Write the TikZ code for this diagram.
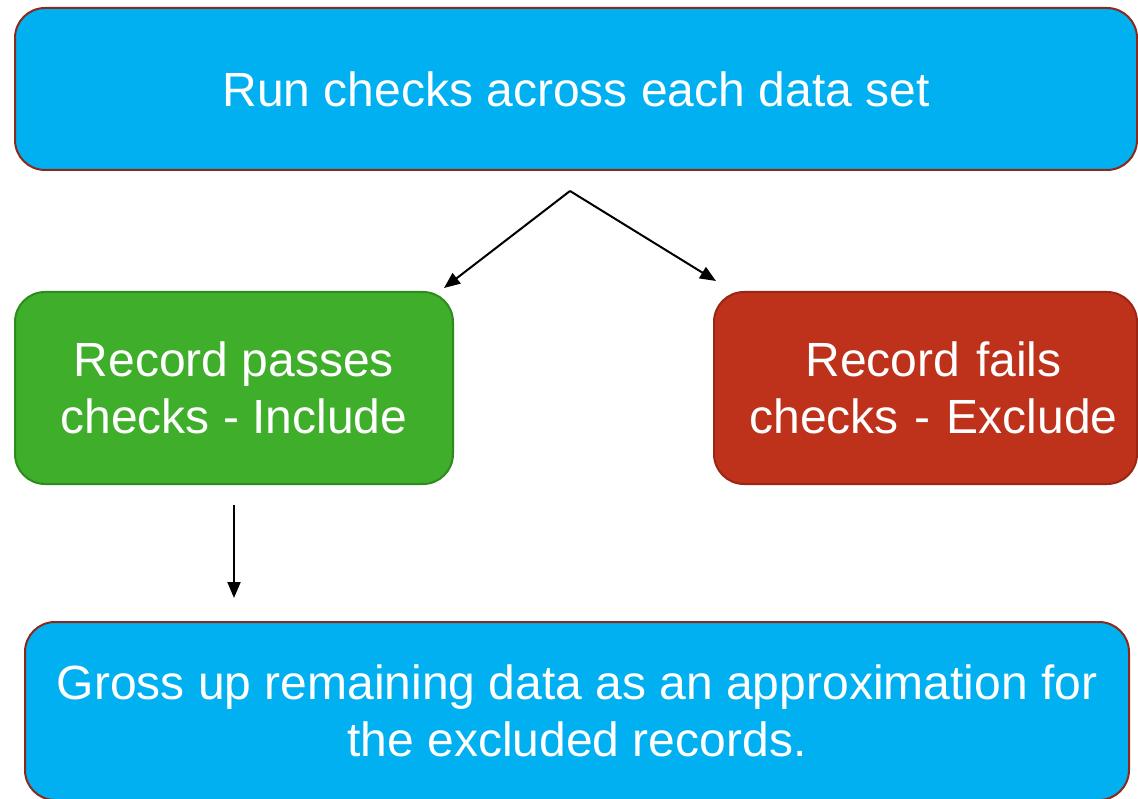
\documentclass[tikz,border=0pt]{standalone}
\usepackage{fontspec}
\setmainfont{Liberation Sans}
\usetikzlibrary{arrows.meta}
\definecolor{boxblue}{HTML}{00B0F0}
\definecolor{boxgreen}{HTML}{3FAE2A}
\definecolor{greenedge}{HTML}{2E8B1E}
\definecolor{boxred}{HTML}{BE311B}
\definecolor{rededge}{HTML}{9A2614}
\definecolor{blueedge}{HTML}{8B2A1A}
\tikzset{
  box/.style={rounded corners=30pt, line width=2pt, text=white, align=center,
    font=\fontsize{48}{57}\selectfont, inner sep=0pt},
  bluebox/.style={box, fill=boxblue, draw=blueedge},
  greenbox/.style={box, fill=boxgreen, draw=greenedge},
  redbox/.style={box, fill=boxred, draw=rededge},
  conn/.style={line width=2pt, -{Triangle[length=16pt,width=13pt]}}
}
\begin{document}
\begin{tikzpicture}[x=1pt,y=-1pt]
\useasboundingbox[fill=white] (0,0) rectangle (1138,799);
\node[bluebox, minimum width=1122pt, minimum height=162pt] (top) at (576,89) {Run checks across each data set};
\node[greenbox, minimum width=438pt, minimum height=192pt] (pass) at (234,388) {Record passes\\checks - Include};
\node[redbox, minimum width=423pt, minimum height=192pt, text width=423pt] (fail) at (925.5,388) {\hspace*{16pt}Record fails\\\hspace*{16pt}checks - Exclude};
\node[bluebox, minimum width=1104pt, minimum height=178pt] (gross) at (577,711) {Gross up remaining data as an approximation for\\the excluded records.};
\coordinate (split) at (570,191);
\coordinate (passin) at (444,288);
\coordinate (failin) at (716,281);
\coordinate (passout) at (234,505);
\coordinate (grossin) at (234,598);
\draw[conn] (split) -- (passin);
\draw[conn] (split) -- (failin);
\draw[conn] (passout) -- (grossin);
\end{tikzpicture}
\end{document}
